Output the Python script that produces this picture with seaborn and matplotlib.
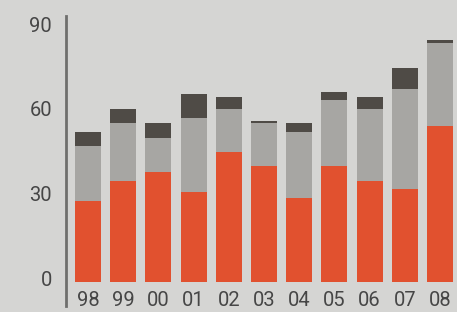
import matplotlib
matplotlib.use("Agg")
import matplotlib.pyplot as plt
import matplotlib.transforms as mtransforms
import numpy as np
import pandas as pd
import seaborn as sns

years = ["98", "99", "00", "01", "02", "03", "04", "05", "06", "07", "08"]
red_vals = [28.5, 35.6, 38.8, 31.7, 45.8, 40.9, 29.6, 40.9, 35.6, 32.7, 55.0]
gray_vals = [19.4, 20.5, 12.0, 26.1, 15.2, 15.2, 23.3, 23.3, 25.4, 35.4, 29.3]
dark_vals = [5.0, 4.9, 5.3, 8.5, 4.3, 0.7, 3.2, 2.8, 4.3, 7.4, 1.1]
yticks = [0, 30, 60, 90]

bg = "#d5d5d3"
red = "#e1512f"
gray = "#a7a6a3"
dark = "#4f4b46"
text_col = "#464646"

df = pd.DataFrame({"year": years, "red": red_vals, "gray": gray_vals, "dark": dark_vals})
df["mid"] = df["red"] + df["gray"]
df["top"] = df["mid"] + df["dark"]

plt.rcParams["font.family"] = ["Roboto", "DejaVu Sans"]

fig = plt.figure(figsize=(4.57, 3.12), dpi=100, facecolor=bg)
ax = fig.add_axes([66 / 457, 6 / 312, 391 / 457, 290 / 312])
ax.set_facecolor(bg)

# draw totals first, then cover with the lower parts
sns.barplot(data=df, x="year", y="top", color=dark, width=0.74, linewidth=0, saturation=1, ax=ax)
sns.barplot(data=df, x="year", y="mid", color=gray, width=0.74, linewidth=0, saturation=1, ax=ax)
sns.barplot(data=df, x="year", y="red", color=red, width=0.74, linewidth=0, saturation=1, ax=ax)

ax.set_xlim(-0.625, 10.48)
ax.set_ylim(-8.6, 93.9)
ax.set_yticks(yticks)
ax.set_yticklabels([str(v) for v in yticks])
ax.set_xlabel("")
ax.set_ylabel("")

for s in ["top", "right", "bottom"]:
    ax.spines[s].set_visible(False)
ax.spines["left"].set_color("#6f6f6d")
ax.spines["left"].set_linewidth(2)

ax.tick_params(axis="y", length=0, pad=10, labelsize=14.5, labelcolor=text_col)
ax.tick_params(axis="x", length=0, pad=-10.5, labelsize=14.5, labelcolor=text_col)
for lab in ax.get_yticklabels():
    lab.set_transform(lab.get_transform() + mtransforms.ScaledTranslation(0, 3 / 100, fig.dpi_scale_trans))

fig.savefig("out.png", dpi=100, facecolor=bg)
